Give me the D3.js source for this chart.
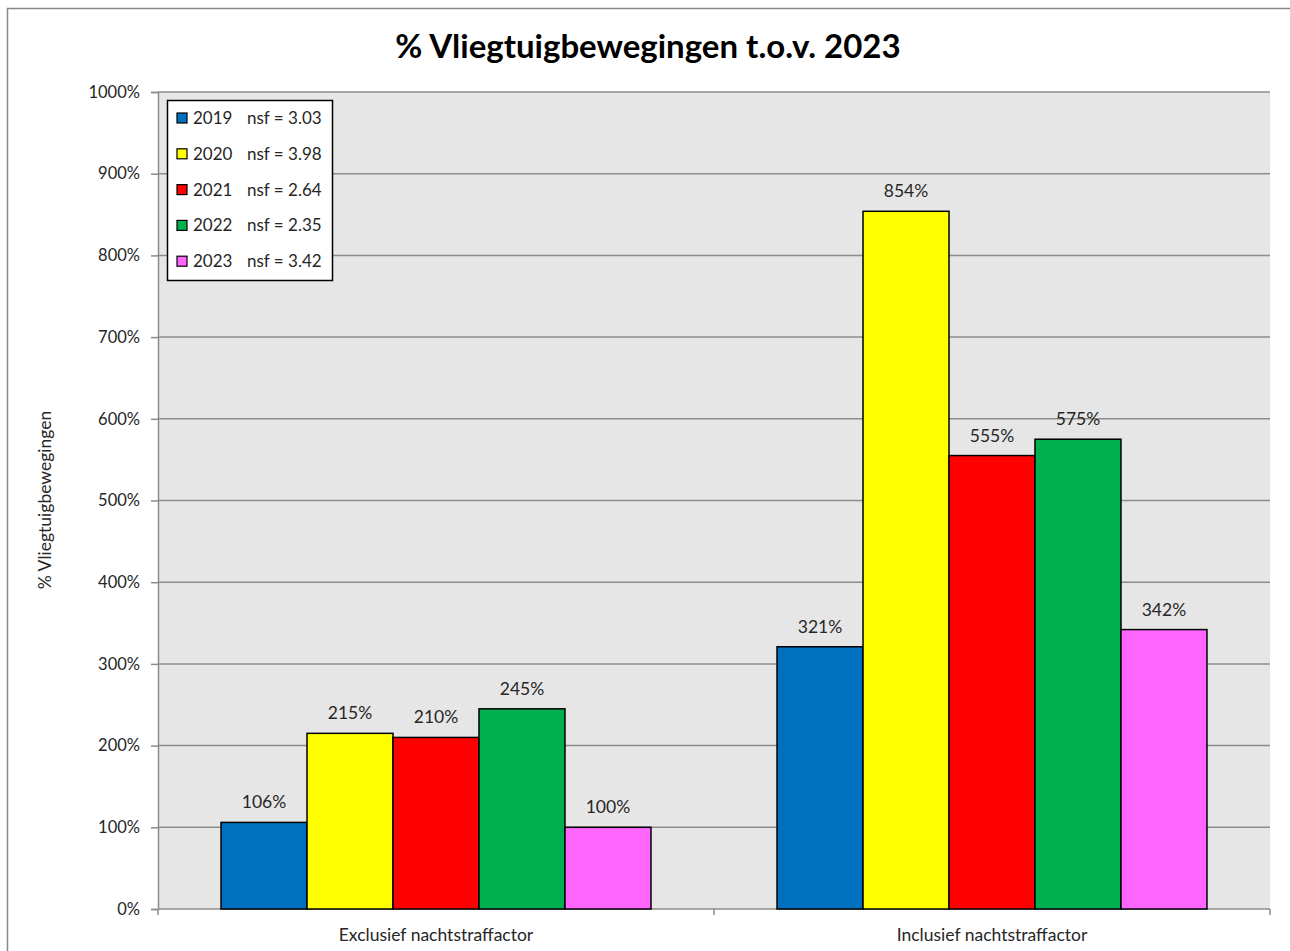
<!DOCTYPE html>
<html>
<head>
<meta charset="utf-8">
<script src="https://cdn.jsdelivr.net/npm/d3@7"></script>
<style>
  body { margin: 0; background: #fff; }
  svg { display: block; font-family: Lato, "Noto Sans", sans-serif; }
</style>
</head>
<body>
<div id="chart"></div>
<script>
// chart data
const categories = ['Exclusief nachtstraffactor', 'Inclusief nachtstraffactor'];
const years = ['2019', '2020', '2021', '2022', '2023'];
const nsf = ['3.03', '3.98', '2.64', '2.35', '3.42'];
const colors = ['#0070c0', '#ffff00', '#ff0000', '#00b050', '#ff66ff'];
const values2019 = [106, 321];
const values2020 = [215, 854];
const values2021 = [210, 555];
const values2022 = [245, 575];
const values2023 = [100, 342];
const yTicks = [0, 100, 200, 300, 400, 500, 600, 700, 800, 900, 1000];

const series = [values2019, values2020, values2021, values2022, values2023];

const width = 1290, height = 951;
const plot = {left: 158, right: 1270, top: 92, bottom: 909};
const textCol = '#262626';

const svg = d3.select('#chart').append('svg')
    .attr('width', width)
    .attr('height', height);

// outer chart border
svg.append('rect')
    .attr('x', 7.5).attr('y', 8.5)
    .attr('width', width).attr('height', height)
    .attr('fill', 'none')
    .attr('stroke', '#888')
    .attr('stroke-width', 1.5);

const x0 = d3.scaleBand()
    .domain(categories)
    .range([plot.left, plot.right])
    .paddingInner(0)
    .paddingOuter(0);

const x1 = d3.scaleBand()
    .domain(years)
    .range([0, x0.bandwidth()])
    .paddingOuter(0.733);

const y = d3.scaleLinear()
    .domain([0, 1000])
    .range([plot.bottom, plot.top]);

// plot background
svg.append('rect')
    .attr('x', plot.left).attr('y', plot.top)
    .attr('width', plot.right - plot.left)
    .attr('height', plot.bottom - plot.top)
    .attr('fill', '#e6e6e6');

// gridlines
svg.append('g')
  .selectAll('line')
  .data(yTicks.slice(1))
  .join('line')
    .attr('x1', plot.left).attr('x2', plot.right)
    .attr('y1', d => y(d)).attr('y2', d => y(d))
    .attr('stroke', '#8c8c8c')
    .attr('stroke-width', 1.5);

// y axis
const yAxis = svg.append('g')
    .attr('transform', `translate(${plot.left},0)`)
    .call(d3.axisLeft(y).tickValues(yTicks).tickSize(7).tickPadding(11).tickFormat(d => d + '%'));
yAxis.select('.domain').attr('stroke', '#8c8c8c').attr('stroke-width', 1.5);
yAxis.selectAll('.tick line').attr('stroke', '#8c8c8c').attr('stroke-width', 1.5);
yAxis.selectAll('.tick text')
    .attr('fill', textCol)
    .style('font-size', '16.5px')
    .style('font-family', 'Lato, sans-serif');

// x axis
const xAxis = svg.append('g')
    .attr('transform', `translate(0,${plot.bottom})`);
xAxis.append('line')
    .attr('x1', plot.left).attr('x2', plot.right)
    .attr('stroke', '#8c8c8c').attr('stroke-width', 1.5);
xAxis.selectAll('line.sep')
  .data([plot.left, ...categories.map(c => x0(c) + x0.bandwidth())])
  .join('line')
    .attr('class', 'sep')
    .attr('x1', d => d).attr('x2', d => d)
    .attr('y1', 0).attr('y2', 6)
    .attr('stroke', '#8c8c8c').attr('stroke-width', 1.5);
xAxis.selectAll('text')
  .data(categories)
  .join('text')
    .attr('x', d => x0(d) + x0.bandwidth() / 2)
    .attr('y', 32)
    .attr('text-anchor', 'middle')
    .attr('fill', textCol)
    .style('font-size', '17.5px')
    .text(d => d);

// bars
const groups = svg.append('g')
  .selectAll('g')
  .data(categories)
  .join('g')
    .attr('transform', d => `translate(${x0(d)},0)`);

groups.selectAll('rect')
  .data((c, ci) => years.map((yr, i) => ({yr, i, v: series[i][ci]})))
  .join('rect')
    .attr('x', d => x1(d.yr))
    .attr('width', x1.bandwidth())
    .attr('y', d => y(d.v))
    .attr('height', d => y(0) - y(d.v))
    .attr('fill', d => colors[d.i])
    .attr('stroke', '#000')
    .attr('stroke-width', 1.5);

groups.selectAll('text')
  .data((c, ci) => years.map((yr, i) => ({yr, i, v: series[i][ci]})))
  .join('text')
    .attr('x', d => x1(d.yr) + x1.bandwidth() / 2)
    .attr('y', d => y(d.v) - 14)
    .attr('text-anchor', 'middle')
    .attr('fill', textCol)
    .style('font-size', '17.5px')
    .text(d => d.v + '%');

// title
svg.append('text')
    .attr('x', 648).attr('y', 58)
    .attr('text-anchor', 'middle')
    .attr('fill', '#000')
    .style('font-size', '33px')
    .style('font-weight', 'bold')
    .text('% Vliegtuigbewegingen t.o.v. 2023');

// y axis title
svg.append('text')
    .attr('transform', 'translate(51,500) rotate(-90)')
    .attr('text-anchor', 'middle')
    .attr('fill', textCol)
    .style('font-size', '17.5px')
    .text('% Vliegtuigbewegingen');

// legend
const legend = svg.append('g').attr('transform', 'translate(167,100)');
legend.append('rect')
    .attr('x', 0.5).attr('y', 0.5)
    .attr('width', 165).attr('height', 180)
    .attr('fill', '#fff')
    .attr('stroke', '#000')
    .attr('stroke-width', 1.5);
const item = legend.selectAll('g.item')
  .data(years)
  .join('g')
    .attr('class', 'item')
    .attr('transform', (d, i) => `translate(0,${18 + i * 35.8})`);
item.append('rect')
    .attr('x', 10).attr('y', -5)
    .attr('width', 10).attr('height', 10)
    .attr('fill', (d, i) => colors[i])
    .attr('stroke', '#000')
    .attr('stroke-width', 1.2);
item.append('text')
    .attr('x', 26).attr('y', 6)
    .attr('fill', textCol)
    .style('font-size', '17px')
    .text(d => d);
item.append('text')
    .attr('x', 80).attr('y', 6)
    .attr('fill', textCol)
    .style('font-size', '17px')
    .text((d, i) => 'nsf = ' + nsf[i]);
</script>
</body>
</html>
